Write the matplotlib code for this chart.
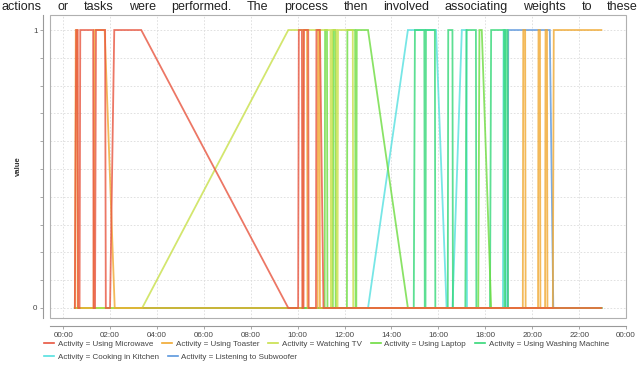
import numpy as np
import matplotlib
matplotlib.use("Agg")
import matplotlib.pyplot as plt
from matplotlib.patches import Rectangle
from matplotlib.lines import Line2D

plt.rcParams['font.family'] = ['Liberation Sans', 'DejaVu Sans']

header = "actions or tasks were performed. The process then involved associating weights to these"

# hours of the day, 0/1 activity flags
microwave_t = [0.50, 0.56, 0.62, 0.64, 0.70, 0.73, 1.28, 1.30, 1.36, 1.40, 1.79, 1.82, 2.00, 2.18, 3.33,
               9.60, 10.02, 10.05, 10.18, 10.20, 10.25, 10.27, 10.45, 10.47, 10.78, 10.80, 10.95, 11.10, 22.95]
microwave_v = [0, 1, 1, 0, 0, 1, 1, 0, 0, 1, 1, 0, 0, 1, 1,
               0, 0, 1, 1, 0, 0, 1, 1, 0, 0, 1, 1, 0, 0]

toaster_t = [0.50, 0.54, 0.60, 0.62, 1.30, 1.33, 1.77, 2.20, 10.22, 10.24, 10.40, 10.42, 10.85, 10.87, 10.93,
             10.95, 19.60, 19.62, 19.70, 19.72, 20.25, 20.27, 20.33, 20.35, 20.55, 20.57, 20.63, 20.65,
             20.88, 20.92, 22.95]
toaster_v = [0, 1, 1, 0, 0, 1, 1, 0, 0, 1, 1, 0, 0, 1, 1,
             0, 0, 1, 1, 0, 0, 1, 1, 0, 0, 1, 1, 0,
             0, 1, 1]

tv_t = [0.50, 3.37, 9.60, 11.40, 11.42, 11.45, 11.47, 11.65, 11.67, 11.70, 11.72, 12.35, 12.37, 22.95]
tv_v = [0, 0, 1, 1, 0, 0, 1, 1, 0, 0, 1, 1, 0, 0]

laptop_t = [0.50, 11.15, 11.17, 11.25, 11.27, 11.50, 11.52, 11.60, 11.62, 12.10, 12.12, 12.45, 12.47,
            12.50, 12.52, 13.00, 14.70, 17.70, 17.75, 17.85, 18.25, 22.95]
laptop_v = [0, 0, 1, 1, 0, 0, 1, 1, 0, 0, 1, 1, 0,
            0, 1, 1, 0, 0, 1, 1, 0, 0]

washing_t = [0.50, 14.95, 15.00, 15.40, 15.42, 15.45, 15.47, 15.85, 15.87, 16.40, 16.42, 16.60, 16.62,
             17.15, 17.20, 17.60, 17.62, 18.20, 18.25, 18.80, 18.82, 18.85, 18.87, 18.95, 18.97, 22.95]
washing_v = [0, 0, 1, 1, 0, 0, 1, 1, 0, 0, 1, 1, 0,
             0, 1, 1, 0, 0, 1, 1, 0, 0, 1, 1, 0, 0]

cooking_t = [0.50, 13.00, 14.70, 15.90, 16.35, 16.60, 17.00, 17.20, 17.22, 18.75, 18.78, 18.85, 18.87, 22.95]
cooking_v = [0, 0, 1, 1, 0, 0, 1, 1, 0, 0, 1, 1, 0, 0]

subwoofer_t = [0.50, 18.95, 18.98, 20.75, 20.90, 22.95]
subwoofer_v = [0, 0, 1, 1, 0, 0]

labels = ["Activity = Using Microwave", "Activity = Using Toaster", "Activity = Watching TV",
          "Activity = Using Laptop", "Activity = Using Washing Machine",
          "Activity = Cooking in Kitchen", "Activity = Listening to Subwoofer"]
colors = ["#e8553f", "#f0a830", "#c8e04a", "#6ddc40", "#35d878", "#55e0e0", "#5b97dd"]
series = [(microwave_t, microwave_v), (toaster_t, toaster_v), (tv_t, tv_v), (laptop_t, laptop_v),
          (washing_t, washing_v), (cooking_t, cooking_v), (subwoofer_t, subwoofer_v)]

fig = plt.figure(figsize=(6.4, 3.65), dpi=100)
ax = fig.add_axes([50 / 640, 1 - 318 / 365, 576 / 640, 303 / 365])

# draw last series first so the microwave line ends up on top
for (t, v), c in list(zip(series, colors))[::-1]:
    ax.plot(t, v, color=c, lw=1.3, alpha=0.8, solid_joinstyle='miter')

ax.set_xlim(-0.56, 24.0)
ax.set_ylim(-0.036, 1.054)

xt = list(range(0, 25, 2))
ax.set_xticks(xt)
ax.set_xticklabels([f"{h % 24:02d}:00" for h in xt])
ax.set_yticks([0, 1])
ax.set_yticklabels(["0", "1"])
ax.set_yticks(np.arange(0, 1.01, 0.1), minor=True)

grid_kw = dict(linestyle=(0, (2, 2)), color="#dcdcdc", lw=0.6)
ax.grid(which='both', axis='y', **grid_kw)
ax.grid(which='major', axis='x', **grid_kw)
ax.set_axisbelow(True)

for s in ['top', 'right']:
    ax.spines[s].set_visible(False)
ax.spines['left'].set_position(('outward', 5))
ax.spines['bottom'].set_position(('outward', 6))
for s in ['left', 'bottom']:
    ax.spines[s].set_color("#999999")
    ax.spines[s].set_linewidth(0.8)
ax.add_patch(Rectangle((0, 0), 1, 1, transform=ax.transAxes, fill=False,
                       edgecolor="#b0b0b0", lw=0.8, clip_on=False, zorder=5))

ax.tick_params(axis='both', which='both', labelsize=5.8, colors="#999999", labelcolor="#444444",
               length=2, width=0.6, pad=2)
ax.tick_params(axis='y', which='minor', length=2)
ax.set_ylabel("value", fontsize=5.6, fontweight='bold', color="#333333", labelpad=8)

handles = [Line2D([], [], color=c, lw=1.2) for c in colors]
leg_kw = dict(loc='upper left', frameon=False, fontsize=5.8, handlelength=1.3,
              handletextpad=0.4, columnspacing=1.1, borderaxespad=0, borderpad=0, labelcolor="#444444")
fig.legend(handles[:5], labels[:5], ncol=5, bbox_to_anchor=(44 / 640, 1 - 340 / 365), **leg_kw)
fig.legend(handles[5:], labels[5:], ncol=2, bbox_to_anchor=(44 / 640, 1 - 353 / 365), **leg_kw)

# justified header line above the chart
fig.canvas.draw()
r = fig.canvas.get_renderer()
words = header.split()
texts = [fig.text(0, 1 - 10 / 365, w, fontsize=9.0, color="#222222", va='baseline') for w in words]
widths = [tx.get_window_extent(r).width for tx in texts]
gap = (638 - 2 - sum(widths)) / (len(words) - 1)
x = 2
for tx, w in zip(texts, widths):
    tx.set_x(x / 640)
    x += w + gap

fig.savefig("out.png", dpi=100)
